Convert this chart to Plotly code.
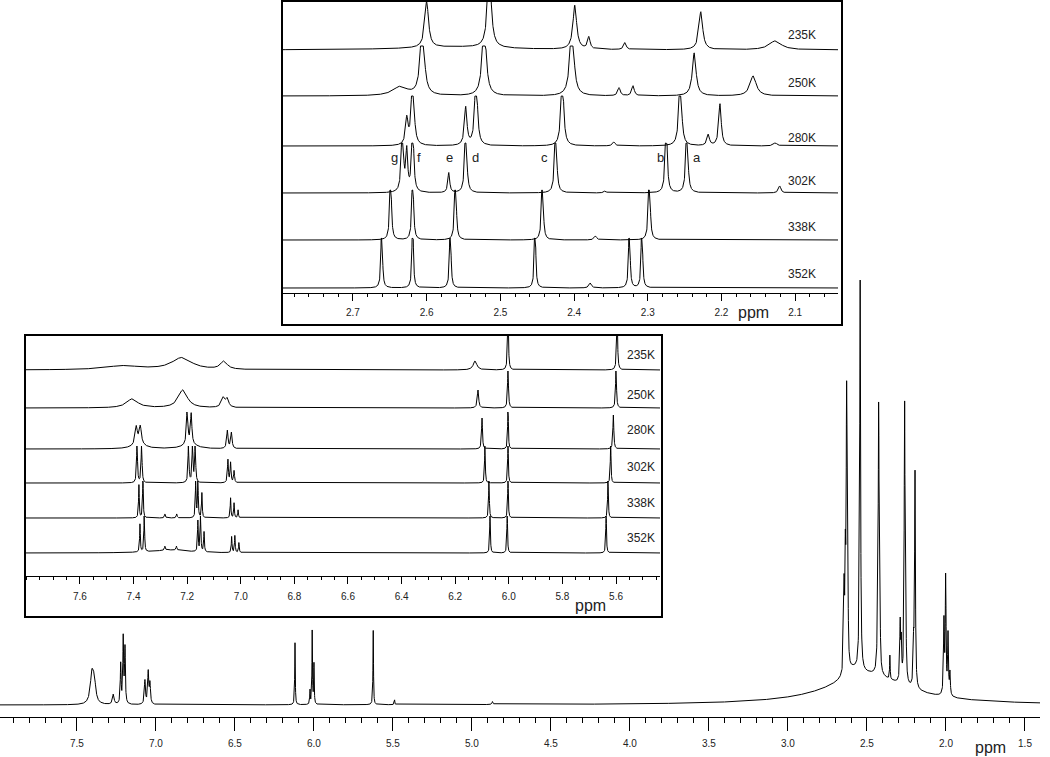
import numpy as np
import plotly.graph_objects as go

W, H = 1050, 757

temps = ["235K", "250K", "280K", "302K", "338K", "352K"]

# peaks as (ppm, height, half width) -- heights in pixels of the original picture
# top inset, 2.05-2.8 ppm
methyl_235K = [(2.600, 46, 0.003), (2.515, 80, 0.003), (2.399, 44, 0.003), (2.380, 12, 0.002),
               (2.331, 7, 0.002), (2.228, 38, 0.003), (2.127, 9, 0.010), (2.56, 3, 0.08)]
methyl_250K = [(2.636, 9, 0.012), (2.606, 80, 0.003), (2.522, 80, 0.003), (2.403, 80, 0.003),
               (2.339, 8, 0.002), (2.320, 10, 0.002), (2.237, 43, 0.003), (2.157, 20, 0.005)]
methyl_280K = [(2.627, 26, 0.002), (2.619, 80, 0.002), (2.547, 38, 0.002), (2.533, 80, 0.002),
               (2.416, 80, 0.002), (2.346, 4, 0.002), (2.256, 80, 0.002), (2.218, 11, 0.002),
               (2.202, 42, 0.002), (2.127, 3, 0.003)]
methyl_302K = [(2.633, 80, 0.0015), (2.627, 40, 0.0015), (2.619, 80, 0.0015), (2.570, 20, 0.0015),
               (2.547, 80, 0.0015), (2.425, 80, 0.0015), (2.358, 2, 0.002), (2.275, 80, 0.0015),
               (2.247, 80, 0.0015), (2.121, 7, 0.002)]
methyl_338K = [(2.649, 80, 0.0012), (2.619, 80, 0.0012), (2.561, 80, 0.0012), (2.443, 80, 0.0012),
               (2.371, 4, 0.002), (2.298, 90, 0.0012)]
methyl_352K = [(2.661, 80, 0.001), (2.619, 80, 0.001), (2.568, 80, 0.001), (2.453, 80, 0.001),
               (2.378, 5, 0.002), (2.325, 80, 0.001), (2.308, 80, 0.001)]

# left inset, 5.45-7.8 ppm
arom_235K = [(7.44, 4, 0.08), (7.22, 12, 0.045), (7.063, 8, 0.015), (6.126, 9, 0.008),
             (6.003, 60, 0.002), (5.596, 60, 0.002)]
arom_250K = [(7.405, 9, 0.025), (7.216, 18, 0.02), (7.065, 10, 0.008), (7.05, 8, 0.006),
             (6.115, 18, 0.003), (6.003, 40, 0.002), (5.600, 40, 0.002)]
arom_280K = [(7.38, 4, 0.03), (7.19, 5, 0.03), (7.39, 18, 0.005), (7.375, 18, 0.005),
             (7.20, 35, 0.003), (7.185, 30, 0.003), (7.05, 18, 0.003), (7.035, 16, 0.003),
             (6.100, 31, 0.002), (6.003, 45, 0.0015), (5.610, 34, 0.002)]
arom_302K = [(7.387, 40, 0.002), (7.370, 40, 0.002), (7.195, 40, 0.002), (7.18, 40, 0.002),
             (7.17, 40, 0.002), (7.048, 23, 0.002), (7.038, 20, 0.002), (7.025, 12, 0.002),
             (6.089, 40, 0.0015), (6.003, 40, 0.0015), (5.620, 40, 0.0015)]
arom_338K = [(7.38, 33, 0.0015), (7.365, 40, 0.0015), (7.283, 4, 0.002), (7.239, 4, 0.002),
             (7.168, 40, 0.0015), (7.16, 40, 0.0015), (7.145, 25, 0.0015), (7.038, 20, 0.0015),
             (7.025, 15, 0.0015), (7.01, 8, 0.0015), (6.074, 40, 0.0015), (6.003, 40, 0.0015),
             (5.630, 40, 0.0015)]
arom_352K = [(7.26, 3, 0.08), (7.376, 28, 0.0015), (7.36, 40, 0.0015), (7.283, 4, 0.002),
             (7.24, 4, 0.002), (7.16, 31, 0.0015), (7.15, 40, 0.0015), (7.137, 20, 0.0015),
             (7.034, 16, 0.0015), (7.022, 17, 0.0015), (7.007, 10, 0.0015), (6.070, 40, 0.0015),
             (6.006, 40, 0.0015), (5.637, 40, 0.0015)]

# main spectrum, 302K
main_arom = [(7.405, 30, 0.012), (7.39, 20, 0.01), (7.27, 10, 0.006), (7.223, 40, 0.003),
             (7.207, 66, 0.003), (7.196, 55, 0.003), (7.07, 24, 0.004), (7.049, 32, 0.004),
             (7.038, 20, 0.004), (6.120, 62, 0.002), (6.025, 14, 0.002), (6.011, 74, 0.002),
             (6.0, 40, 0.002), (5.625, 75, 0.002), (5.49, 5, 0.002), (4.87, 3, 0.004)]
main_aliph = [(2.5, 30, 0.3), (2.59, 8, 0.05), (2.645, 80, 0.003), (2.637, 100, 0.003),
              (2.629, 271, 0.003), (2.621, 70, 0.003), (2.548, 50, 0.003), (2.543, 378, 0.003),
              (2.432, 64, 0.003), (2.426, 258, 0.003), (2.418, 50, 0.003), (2.355, 24, 0.002),
              (2.29, 58, 0.003), (2.283, 37, 0.003), (2.262, 276, 0.003), (2.255, 71, 0.003),
              (2.205, 39, 0.003), (2.196, 215, 0.003), (2.013, 72, 0.003), (2.002, 118, 0.003),
              (1.987, 60, 0.003), (1.975, 22, 0.003)]

methyl_labels = ["g", "f", "e", "d", "c", "b", "a"]

main_ticks = [7.5, 7.0, 6.5, 6.0, 5.5, 5.0, 4.5, 4.0, 3.5, 3.0, 2.5, 2.0, 1.5]
top_ticks = [2.7, 2.6, 2.5, 2.4, 2.3, 2.2, 2.1]
left_ticks = [7.6, 7.4, 7.2, 7.0, 6.8, 6.6, 6.4, 6.2, 6.0, 5.8, 5.6]

methyl_peaks = [methyl_235K, methyl_250K, methyl_280K, methyl_302K, methyl_338K, methyl_352K]
arom_peaks = [arom_235K, arom_250K, arom_280K, arom_302K, arom_338K, arom_352K]


def lorentz(ppm, peaks):
    y = np.zeros_like(ppm)
    for pos, height, hw in peaks:
        y += height / (1.0 + ((ppm - pos) / hw) ** 2)
    return y


def px(x, y):
    return x / W, 1 - y / H


def label(x, y, text, size):
    xx, yy = px(x, y)
    fig.add_annotation(x=xx, y=yy, xref='paper', yref='paper', text=text, showarrow=False,
                       xanchor='center', yanchor='middle',
                       font=dict(family='Liberation Sans', size=size, color='#222'))


line = dict(color='black', width=1)
fig = go.Figure()

# main spectrum
x_main = np.arange(1.40, 7.99, 0.0008)
fig.add_trace(go.Scatter(x=x_main, y=lorentz(x_main, main_arom + main_aliph), mode='lines',
                         line=line, xaxis='x', yaxis='y', hoverinfo='skip'))

# stacked insets: baselines in px above each inset's axis line
top_base = [243, 197, 147, 100, 53, 5]
left_base = [206, 168, 127, 93, 58, 23]
x_top = np.arange(2.035, 2.80, 0.0002)
x_left = np.arange(5.43, 7.81, 0.0003)
for i in range(len(temps)):
    y = lorentz(x_top, methyl_peaks[i])
    if i > 0:
        y = np.minimum(y, 50)
    fig.add_trace(go.Scatter(x=x_top, y=y + top_base[i], mode='lines', line=line,
                             xaxis='x2', yaxis='y2', hoverinfo='skip'))
    y = lorentz(x_left, arom_peaks[i])
    if i > 0:
        y = np.minimum(y, 37)
    fig.add_trace(go.Scatter(x=x_left, y=y + left_base[i], mode='lines', line=line,
                             xaxis='x3', yaxis='y3', hoverinfo='skip'))

tickfont = dict(family='Liberation Sans', size=10, color='#222')
ax_common = dict(showgrid=False, zeroline=False, showline=True, linecolor='black', linewidth=1,
                 ticks='outside', tickcolor='black', tickwidth=1, tickfont=tickfont,
                 tickformat='.1f', tickmode='array')

fig.update_layout(
    width=W, height=H, margin=dict(l=0, r=0, t=0, b=0), showlegend=False,
    paper_bgcolor='white', plot_bgcolor='rgba(0,0,0,0)',
    xaxis=dict(ax_common, domain=[0, 1040 / W], range=[7.987, 1.405], anchor='y',
               tickvals=main_ticks, ticklen=13, ticklabelstandoff=4,
               minor=dict(ticks='outside', ticklen=5, tickmode='linear', tick0=0, dtick=0.1,
                          tickcolor='black')),
    yaxis=dict(domain=[1 - 717 / H, 1], range=[-12, 705], visible=False, anchor='x'),
    xaxis2=dict(ax_common, domain=[282 / W, 838 / W], range=[2.7963, 2.0419], anchor='y2',
                tickvals=top_ticks, ticklen=7, ticklabelstandoff=3,
                minor=dict(ticks='outside', ticklen=3, tickmode='linear', tick0=0, dtick=0.02,
                           tickcolor='black')),
    yaxis2=dict(domain=[1 - 293 / H, 1 - 1 / H], range=[0, 292], visible=False, anchor='x2'),
    xaxis3=dict(ax_common, domain=[25 / W, 660 / W], range=[7.805, 5.436], anchor='y3',
                tickvals=left_ticks, ticklen=7, ticklabelstandoff=4,
                minor=dict(ticks='outside', ticklen=3, tickmode='linear', tick0=0, dtick=0.05,
                           tickcolor='black')),
    yaxis3=dict(domain=[1 - 576 / H, 1 - 336 / H], range=[0, 240], visible=False, anchor='x3'),
)

# inset frames
for x0, y0, x1, y1 in [(282, 1, 842, 325), (25, 335, 662, 617)]:
    a, b = px(x0, y0)
    c, d = px(x1, y1)
    fig.add_shape(type='rect', xref='paper', yref='paper', x0=a, x1=c, y0=d, y1=b,
                  line=dict(color='black', width=2), fillcolor='rgba(0,0,0,0)', layer='above')

top_label_y = [35, 83, 138, 181, 227, 274]
left_label_y = [355, 395, 430, 467, 503, 538]
for i, t in enumerate(temps):
    label(802, top_label_y[i], t, 12)
    label(641, left_label_y[i], t, 12)

letter_x = [394, 419, 449, 475, 544, 660, 697]
for lab, lx in zip(methyl_labels, letter_x):
    label(lx, 157, lab, 13)

for lx, ly in [(990, 747), (753, 312), (590, 605)]:
    label(lx, ly, 'ppm', 16)

fig.write_html("out.html", config={'displayModeBar': False},
               post_script="document.body.style.margin='0';")
